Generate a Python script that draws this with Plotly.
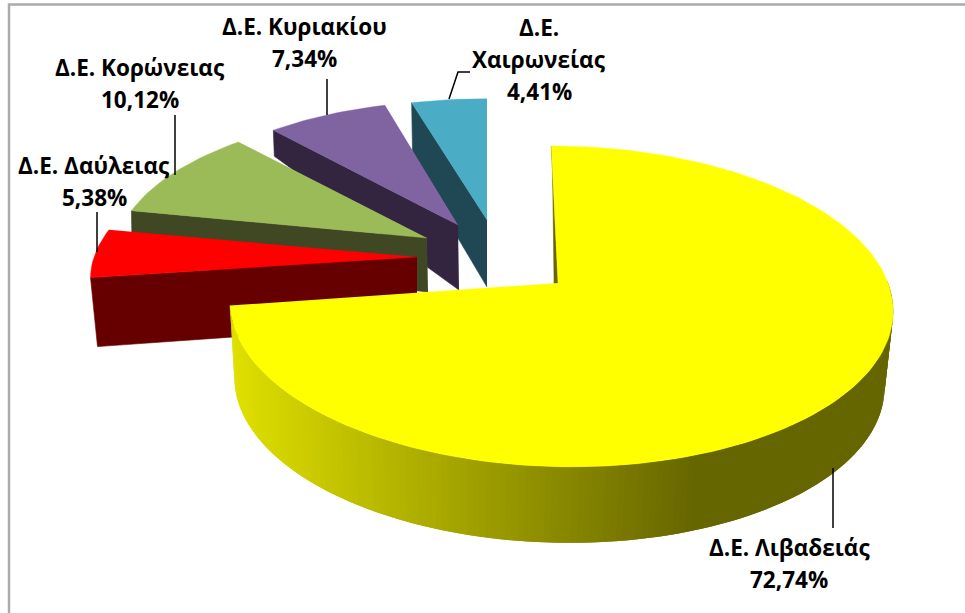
import math
import plotly.graph_objects as go

# ---- data ----
categories = ["Δ.Ε. Λιβαδειάς", "Δ.Ε. Δαύλειας", "Δ.Ε. Κορώνειας", "Δ.Ε. Κυριακίου", "Δ.Ε. Χαιρωνείας"]
shares = [72.74, 5.38, 10.12, 7.34, 4.41]
top_colors = ["#ffff00", "#ff0000", "#9bbb59", "#8064a2", "#4bacc6"]
wall_colors = ["#666600", "#660000", "#3f4822", "#33243f", "#1f4754"]

# ---- 3D projection style (one entry per slice): exploded hub and perspective ----
HUB = [(558, 283), (417, 257), (427, 238), (458, 225), (487, 220)]
RIM_CX = [560, 417, 427, 458, 487]
SX = [328, 323, 310, 304, 314]
SY = [157, 143, 144, 142, 139]
SHEAR = [-10, 0, 0, 0, 0]
DEPTH_HUB = [67, 67, 54, 65, 67]
DEPTH_RIM = [2, 69, 50, 26, 59]
RIM_DX = [1, 7, 1, 1, 1]
HUB_DX = [-3, 0, 1, 1, 0]
K = 0.146
FONT = "'Open Sans', 'Noto Sans', sans-serif"
FSIZE = 22.5

total = sum(shares)
edges = [0.0]
for s in shares:
    edges.append(edges[-1] + 360.0 * s / total)


def rim(i, deg):
    t = math.radians(deg)
    p = 1.0 / (1.0 + K * math.cos(t))
    return (RIM_CX[i] + (SX[i] * math.sin(t) + SHEAR[i] * math.cos(t)) * p,
            HUB[i][1] - SY[i] * math.cos(t) * p)


def poly(xs, ys, color, width=0.6):
    return go.Scatter(x=xs, y=ys, mode="lines", fill="toself", fillcolor=color,
                      line=dict(color=color, width=width), hoverinfo="skip", showlegend=False)


fig = go.Figure()
# back-to-front
for i in [4, 3, 2, 1, 0]:
    a0, a1 = edges[i], edges[i + 1]
    hx, hy = HUB[i]
    rx, ry = rim(i, a0)
    fig.add_trace(poly([hx, rx, rx + RIM_DX[i], hx + HUB_DX[i]],
                       [hy, ry, ry + DEPTH_RIM[i], hy + DEPTH_HUB[i]], wall_colors[i]))
    if i == 0:
        # outer wall shaded by screen position; each strip overlaps the next so no seams show
        step = 1.0
        deg = a1 - step
        cx = RIM_CX[0]
        bcx = cx - 2
        while deg > 88.0:
            d_hi = min(deg + 2 * step, a1)
            xa, ya = rim(0, deg)
            xm, ym = rim(0, deg + step / 2)
            xb, yb = rim(0, d_hi)
            bxa = bcx + (xa - cx) * 0.98
            bxb = bcx + (xb - cx) * 0.98
            bxm = bcx + (xm - cx) * 0.98
            v = 0.88 - 0.48 * (bxm - 235) / (700 - 235)
            v = max(0.40, min(0.88, v))
            c = int(255 * v)
            col = f"rgb({c},{c},0)"
            fig.add_trace(poly([xa, xb, bxb, bxa], [ya, yb, yb + 76, ya + 76], col, 0))
            deg -= step
    n = max(3, int((a1 - a0) / 1.5))
    arc = [rim(i, a0 + (a1 - a0) * j / n) for j in range(n + 1)]
    fig.add_trace(poly([hx] + [p[0] for p in arc], [hy] + [p[1] for p in arc], top_colors[i], 0.4))

# leader lines
leaders = [([833, 833], [468, 528]), ([97, 97], [212, 252]), ([175, 175], [115, 175]),
           ([327, 327], [79, 115]), ([449, 458, 470], [99, 72, 72])]
for lx, ly in leaders:
    fig.add_trace(go.Scatter(x=lx, y=ly, mode="lines", line=dict(color="#000000", width=1.5),
                             hoverinfo="skip", showlegend=False))

# labels
label_lines = [
    (789, 547, ["Δ.Ε. Λιβαδειάς"]),
    (94, 165, ["Δ.Ε. Δαύλειας"]),
    (140, 67, ["Δ.Ε. Κορώνειας"]),
    (304, 26, ["Δ.Ε. Κυριακίου"]),
    (539, 27, ["Δ.Ε.", "Χαιρωνείας"]),
]
annotations = []
for s, (x, y, lines) in zip(shares, label_lines):
    text_lines = lines + [f"{s:.2f}%".replace(".", ",")]
    for j, t in enumerate(text_lines):
        annotations.append(dict(x=x, y=y + j * 32, text=f"<b>{t}</b>", showarrow=False,
                                xanchor="center", yanchor="middle",
                                font=dict(family=FONT, size=FSIZE, color="#000000")))

fig.update_layout(
    width=965, height=613, margin=dict(l=0, r=0, t=0, b=0),
    paper_bgcolor="#ffffff", plot_bgcolor="#ffffff", showlegend=False,
    xaxis=dict(range=[0, 965], visible=False, fixedrange=True),
    yaxis=dict(range=[613, 0], visible=False, fixedrange=True),
    annotations=annotations,
    shapes=[dict(type="rect", x0=9, y0=4.5, x1=990, y1=640,
                 line=dict(color="#ababab", width=2.5))],
)
fig.write_html("out.html", config={"displayModeBar": False},
               post_script="document.body.style.margin='0';document.body.style.overflow='hidden';")
